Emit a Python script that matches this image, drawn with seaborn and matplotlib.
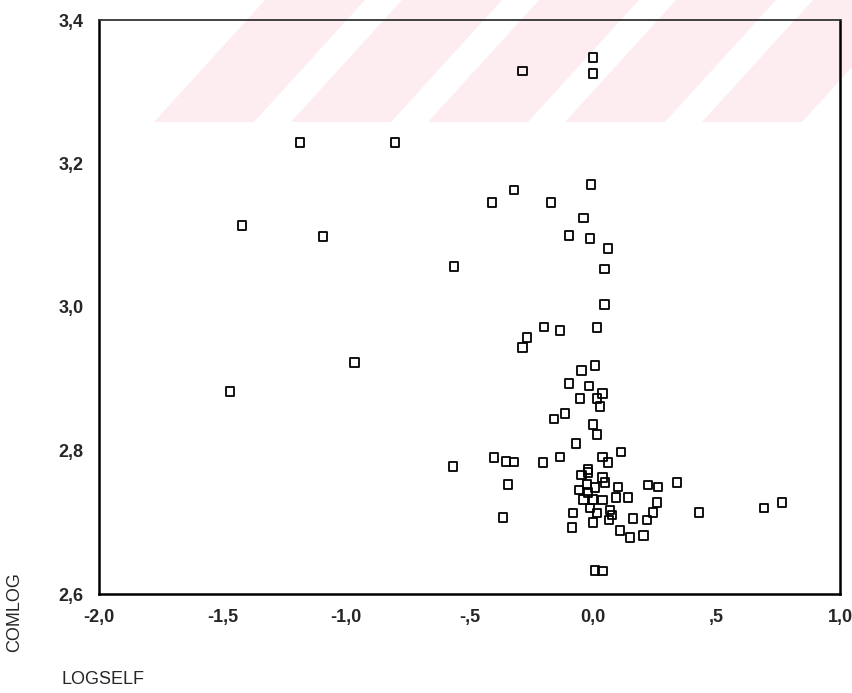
import matplotlib
matplotlib.use("Agg")
import matplotlib.pyplot as plt
from matplotlib.patches import Polygon
import seaborn as sns

# LOGSELF / COMLOG values
logself = [
    -0.287, 0.000, 0.000, -1.186, -0.802, -0.409, -0.320, -0.008, -0.170, -1.421,
    -1.093, -0.040, -0.097, -0.012, 0.061, -0.563, 0.045, 0.045, -0.964, -1.470,
    -0.198, -0.134, 0.016, -0.267, -0.287, -0.045, 0.008, -0.097, -0.016, -0.053,
    0.040, 0.016, 0.028, -0.113, -0.158, 0.000, 0.016, -0.069, -0.202, -0.134,
    0.040, 0.061, 0.113, -0.020, -0.045, -0.020, 0.040, 0.049, -0.057, -0.024,
    -0.020, 0.008, 0.101, 0.223, 0.263, 0.340, -0.040, 0.000, 0.040, 0.093,
    0.142, -0.012, 0.016, -0.081, 0.069, 0.077, 0.065, 0.259, 0.243, 0.429,
    0.000, -0.085, 0.162, 0.219, 0.109, 0.150, 0.206, 0.008, 0.040, 0.692,
    0.765, -0.567, -0.401, -0.352, -0.320, -0.344, -0.364,
]
comlog = [
    3.329, 3.348, 3.325, 3.229, 3.229, 3.146, 3.163, 3.171, 3.146, 3.114,
    3.098, 3.124, 3.100, 3.095, 3.081, 3.056, 3.053, 3.003, 2.923, 2.882,
    2.972, 2.967, 2.971, 2.957, 2.944, 2.912, 2.918, 2.893, 2.890, 2.872,
    2.879, 2.873, 2.861, 2.852, 2.844, 2.836, 2.822, 2.810, 2.783, 2.791,
    2.791, 2.783, 2.798, 2.774, 2.766, 2.769, 2.762, 2.755, 2.745, 2.753,
    2.742, 2.748, 2.749, 2.752, 2.749, 2.755, 2.732, 2.732, 2.731, 2.735,
    2.734, 2.720, 2.713, 2.713, 2.717, 2.710, 2.703, 2.727, 2.714, 2.714,
    2.700, 2.693, 2.705, 2.703, 2.688, 2.679, 2.682, 2.633, 2.632, 2.720,
    2.727, 2.778, 2.790, 2.785, 2.784, 2.753, 2.707,
]

x_ticks = [-2.0, -1.5, -1.0, -0.5, 0.0, 0.5, 1.0]
x_ticklabels = ["-2,0", "-1,5", "-1,0", "-,5", "0,0", ",5", "1,0"]
y_ticks = [2.6, 2.8, 3.0, 3.2, 3.4]
y_ticklabels = ["2,6", "2,8", "3,0", "3,2", "3,4"]

sns.set_style("white")
plt.rcParams["font.family"] = ["Liberation Sans", "DejaVu Sans"]

fig = plt.figure(figsize=(8.53, 6.93), dpi=100)

# faint pink watermark stripes across the top of the scan (behind the plot)
W, H = 853, 693
for x0 in [154, 291, 428, 565, 702]:
    pts = [(x0, 122), (x0 + 100, 122), (x0 + 211, 0), (x0 + 111, 0)]
    fig.patches.append(Polygon([(px / W, 1 - py / H) for px, py in pts],
                               closed=True, transform=fig.transFigure,
                               facecolor="#fdedf0", edgecolor="none", zorder=-5))

ax = fig.add_axes([99 / W, 1 - 594 / H, (840 - 99) / W, (594 - 20) / H])
ax.set_zorder(2)
ax.patch.set_alpha(0)

sns.scatterplot(x=logself, y=comlog, ax=ax, marker="s", s=40,
                facecolor="none", edgecolor="black", linewidth=1.3)

ax.set_xlim(-2.0, 1.0)
ax.set_ylim(2.6, 3.4)
ax.set_xticks(x_ticks)
ax.set_xticklabels(x_ticklabels)
ax.set_yticks(y_ticks)
ax.set_yticklabels(y_ticklabels)
ax.tick_params(axis="both", direction="out", length=3, width=1.5, color="black",
               labelsize=13, pad=8)
for lab in ax.get_xticklabels() + ax.get_yticklabels():
    lab.set_fontweight("bold")

for side in ["left", "right", "bottom"]:
    ax.spines[side].set_color("black")
    ax.spines[side].set_linewidth(1.8)
ax.spines["top"].set_color("#333333")
ax.spines["top"].set_linewidth(1.3)
ax.set_xlabel("")
ax.set_ylabel("")

fig.text(15 / W, 1 - 612 / H, "COMLOG", rotation=90, ha="center", va="center",
         fontsize=13)
fig.text(62 / W, 1 - 679 / H, "LOGSELF", ha="left", va="center", fontsize=13)

plt.savefig("out.png", dpi=100)
plt.close()
